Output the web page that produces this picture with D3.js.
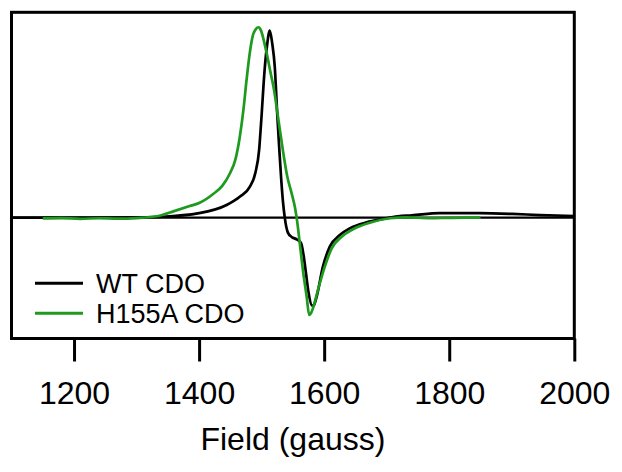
<!DOCTYPE html>
<html><head><meta charset="utf-8">
<script src="https://cdn.jsdelivr.net/npm/d3@7"></script>
<style>
html,body{margin:0;padding:0;background:#fff;}
svg{display:block;font-family:"Liberation Sans",Arial,sans-serif;}
</style></head>
<body><svg id="c" width="622" height="472"></svg>
<script>
// ---- data ----
const wtField = [1100,1200,1300,1340,1400,1444,1465,1481,1490,1496,1499,1505,1509,1513,1517,1521,1525,1528,1531,1534,1537,1542,1548,1556,1563,1567,1571,1575,1581,1584,1588,1598,1609,1625,1641,1668,1694,1718,1740,1785,1849,1901,1945,2000];
const wtSignal = [0,0,0.002,0.005,0.024,0.068,0.112,0.165,0.24,0.363,0.5,0.80,0.93,1.0,0.93,0.807,0.55,0.38,0.22,0.09,0,-0.08,-0.103,-0.116,-0.135,-0.2,-0.3,-0.4,-0.472,-0.465,-0.422,-0.262,-0.155,-0.093,-0.057,-0.025,-0.007,0.007,0.012,0.024,0.024,0.02,0.014,0.009];
const h155aField = [1150,1180,1210,1240,1270,1300,1335,1360,1385,1401,1423,1437,1449,1458,1465,1471,1476,1481,1486,1491,1495,1499,1504,1508,1514,1520,1527,1534,1541,1548,1553,1556,1561,1566,1572,1576,1579,1582,1590,1601,1612,1628,1646,1673,1705,1731,1769,1800,1822,1850];
const h155aSignal = [-0.004,-0.002,-0.006,-0.003,-0.005,-0.002,0.009,0.035,0.062,0.08,0.128,0.17,0.235,0.31,0.43,0.58,0.74,0.88,0.975,1.01,1.018,1.0,0.94,0.88,0.78,0.68,0.52,0.36,0.22,0.13,0.06,0,-0.137,-0.28,-0.422,-0.52,-0.51,-0.485,-0.387,-0.262,-0.164,-0.102,-0.062,-0.027,-0.003,0.002,-0.003,-0.001,0,0];
const tickValues = [1200,1400,1600,1800,2000];
const seriesNames = ["WT CDO","H155A CDO"];
const seriesColors = ["#000000","#1e9a1e"];
const xTitle = "Field (gauss)";

// ---- chart ----
const svg = d3.select("#c");
const L = 11.5, R = 574.3, T = 12.3, B = 338.5;
const x = d3.scaleLinear().domain([1100,2000]).range([L,R]);
const y = d3.scaleLinear().domain([-0.646,1.098]).range([B,T]);

const line = d3.line().x(d=>x(d[0])).y(d=>y(d[1])).curve(d3.curveMonotoneX);

// zero line
svg.append("line").attr("x1",x(1100)).attr("x2",x(2000)).attr("y1",y(0)).attr("y2",y(0))
  .attr("stroke","#000").attr("stroke-width",2.2);

const series = [
  {name:seriesNames[0], color:seriesColors[0], pts:d3.zip(wtField,wtSignal)},
  {name:seriesNames[1], color:seriesColors[1], pts:d3.zip(h155aField,h155aSignal)}
];
svg.append("path").datum(series[0].pts).attr("d",line).attr("fill","none")
  .attr("stroke",series[0].color).attr("stroke-width",2.7).attr("stroke-linejoin","round");
svg.append("path").datum(series[1].pts).attr("d",line).attr("fill","none")
  .attr("stroke",series[1].color).attr("stroke-width",2.7).attr("stroke-linejoin","round");

// frame
svg.append("rect").attr("x",L).attr("y",T).attr("width",R-L).attr("height",B-T)
  .attr("fill","none").attr("stroke","#000").attr("stroke-width",3);

// x axis
const ax = svg.append("g").attr("transform",`translate(0,${B})`)
  .call(d3.axisBottom(x).tickValues(tickValues).tickSize(23).tickFormat(d3.format("d")));
ax.select(".domain").remove();
ax.selectAll(".tick line").attr("stroke","#000").attr("stroke-width",3);
ax.selectAll(".tick text").attr("y",65.5).attr("dy",null)
  .attr("font-size",32).attr("fill","#000").attr("font-family","Liberation Sans, Arial, sans-serif");

svg.append("text").attr("x",(L+R)/2).attr("y",450).attr("text-anchor","middle")
  .attr("font-size",32).attr("fill","#000").text(xTitle);

// legend
series.forEach((s,i)=>{
  const yy = 283.3 + i*30;
  svg.append("line").attr("x1",35).attr("x2",83).attr("y1",yy).attr("y2",yy)
    .attr("stroke",s.color).attr("stroke-width",3);
  svg.append("text").attr("x",96).attr("y",yy+9.3).attr("font-size",27).attr("fill","#000").text(s.name);
});
</script></body></html>
